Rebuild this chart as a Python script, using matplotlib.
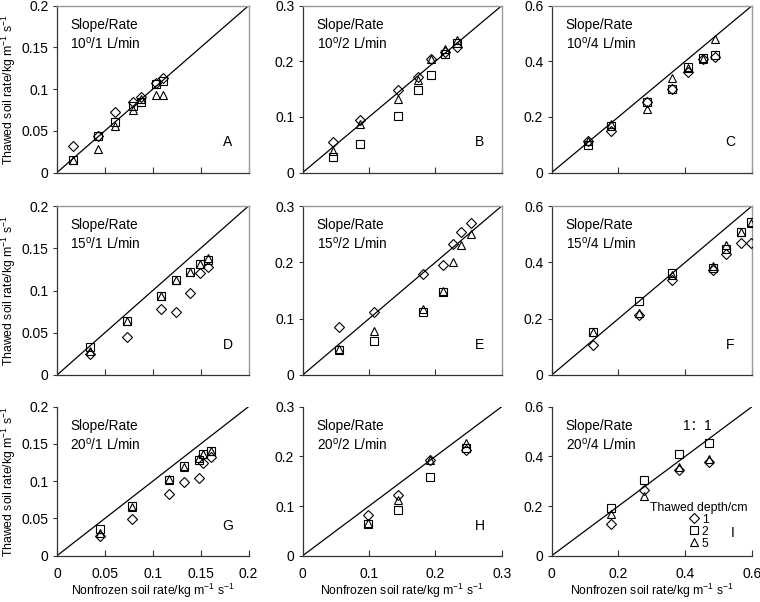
import numpy as np
import matplotlib
matplotlib.use("Agg")
import matplotlib.pyplot as plt
from matplotlib.ticker import FixedLocator, FuncFormatter

plt.rcParams['font.family'] = ['Liberation Sans', 'Noto Sans CJK SC', 'DejaVu Sans']
plt.rcParams['mathtext.fontset'] = 'custom'
plt.rcParams['mathtext.rm'] = 'Liberation Sans'
plt.rcParams['mathtext.it'] = 'Liberation Sans'
plt.rcParams['mathtext.default'] = 'regular'

nan = np.nan

# ---- data: nonfrozen (x) vs thawed (y) soil rate, thawed depths 1, 2, 5 cm ----
A_x  = [0.017, 0.043, 0.061, 0.079, 0.088, 0.103, 0.111]
A_d1 = [0.032, 0.044, 0.073, 0.085, 0.090, 0.107, 0.113]
A_d2 = [0.015, 0.044, 0.061, 0.080, 0.084, 0.106, 0.110]
A_d5 = [0.015, 0.028, 0.056, 0.075, 0.088, 0.093, 0.093]

B_x  = [0.045, 0.086, 0.144, 0.174, 0.194, 0.215, 0.232]
B_d1 = [0.055, 0.094, 0.148, 0.171, 0.204, 0.216, 0.226]
B_d2 = [0.028, 0.052, 0.102, 0.148, 0.176, 0.214, 0.233]
B_d5 = [0.038, 0.088, 0.133, 0.166, 0.204, 0.222, 0.239]

C_x  = [0.110, 0.179, 0.284, 0.359, 0.409, 0.454, 0.490]
C_d1 = [0.112, 0.151, 0.252, 0.302, 0.360, 0.410, 0.415]
C_d2 = [0.098, 0.167, 0.254, 0.302, 0.381, 0.412, 0.421]
C_d5 = [0.115, 0.175, 0.227, 0.339, 0.375, 0.410, 0.481]

D_x  = [0.034, 0.073, 0.109, 0.124, 0.139, 0.149, 0.158]
D_d1 = [0.025, 0.045, 0.078, 0.075, 0.097, 0.121, 0.128]
D_d2 = [0.0335, 0.064, 0.0935, 0.112, 0.122, 0.131, 0.136]
D_d5 = [0.028, 0.064, 0.0935, 0.112, 0.122, 0.131, 0.139]

E_x  = [0.055, 0.108, 0.182, 0.211, 0.227, 0.239, 0.254]
E_d1 = [0.086, 0.111, 0.179, 0.195, 0.233, 0.253, 0.269]
E_d2 = [0.044, 0.060, 0.112, 0.148, nan, nan, nan]
E_d5 = [0.047, 0.078, 0.117, 0.150, 0.200, 0.230, 0.250]

F_x  = [0.125, 0.263, 0.360, 0.482, 0.522, 0.567, 0.598]
F_d1 = [0.105, 0.214, 0.336, 0.372, 0.431, 0.469, 0.467]
F_d2 = [0.154, 0.261, 0.362, 0.381, 0.447, 0.508, 0.544]
F_d5 = [0.154, 0.220, 0.354, 0.387, 0.463, 0.508, 0.538]

G_x  = [0.045, 0.078, 0.117, 0.133, 0.148, 0.152, 0.161]
G_d1 = [0.027, 0.049, 0.083, 0.099, 0.104, 0.124, 0.133]
G_d2 = [0.036, 0.067, 0.101, 0.120, 0.129, 0.137, 0.141]
G_d5 = [0.030, 0.066, 0.103, 0.119, 0.131, 0.137, 0.141]

H_x  = [0.099, 0.143, 0.192, 0.246]
H_d1 = [0.082, 0.122, 0.193, 0.213]
H_d2 = [0.064, 0.092, 0.159, 0.216]
H_d5 = [0.066, 0.113, 0.193, 0.226]

I_x  = [0.177, 0.277, 0.380, 0.472]
I_d1 = [0.129, 0.264, 0.347, 0.376]
I_d2 = [0.191, 0.305, 0.410, 0.455]
I_d5 = [0.167, 0.241, 0.356, 0.390]

panel_letters = ['A', 'B', 'C', 'D', 'E', 'F', 'G', 'H', 'I']
slopes = ['10', '10', '10', '15', '15', '15', '20', '20', '20']
rates = ['1', '2', '4', '1', '2', '4', '1', '2', '4']
axis_max = [0.2, 0.3, 0.6]
ticks_col = [[0, 0.05, 0.1, 0.15, 0.2], [0, 0.1, 0.2, 0.3], [0, 0.2, 0.4, 0.6]]
depth_labels = ['1', '2', '5']
panel_data = [
    (A_x, A_d1, A_d2, A_d5), (B_x, B_d1, B_d2, B_d5), (C_x, C_d1, C_d2, C_d5),
    (D_x, D_d1, D_d2, D_d5), (E_x, E_d1, E_d2, E_d5), (F_x, F_d1, F_d2, F_d5),
    (G_x, G_d1, G_d2, G_d5), (H_x, H_d1, H_d2, H_d5), (I_x, I_d1, I_d2, I_d5),
]

W, H = 760, 602
fig = plt.figure(figsize=(W / 100, H / 100), dpi=100)

col_lr = [(57, 248.5), (302.7, 501.7), (551.7, 752)]
row_tb = [(5.7, 172.5), (206, 375), (406.7, 555.7)]

markers = [('D', 4.8), ('s', 5.8), ('^', 6.0)]
fs_tick = 10
fs_txt = 9.8
fs_lab = 8.8
ylab = 'Thawed soil rate/kg m$^{-1}$ s$^{-1}$'
xlab = 'Nonfrozen soil rate/kg m$^{-1}$ s$^{-1}$'

fmt = FuncFormatter(lambda v, p: '0' if v == 0 else ('%g' % v))

for i in range(9):
    r, c = divmod(i, 3)
    l, rr = col_lr[c]
    t, b = row_tb[r]
    ax = fig.add_axes([l / W, 1 - b / H, (rr - l) / W, (b - t) / H])
    m = axis_max[c]
    xs, d1, d2, d5 = panel_data[i]
    ax.plot([0, m], [0, m], color='black', lw=0.9, zorder=1)
    handles = []
    for (mk, ms), ys, lab in zip(markers, [d1, d2, d5], depth_labels):
        h, = ax.plot(xs, ys, linestyle='none', marker=mk, markersize=ms,
                     markerfacecolor='none', markeredgecolor='black',
                     markeredgewidth=0.8, label=lab, zorder=3)
        handles.append(h)
    ax.set_xlim(0, m)
    ax.set_ylim(0, m)
    ax.xaxis.set_major_locator(FixedLocator(ticks_col[c]))
    ax.yaxis.set_major_locator(FixedLocator(ticks_col[c]))
    ax.xaxis.set_major_formatter(fmt)
    ax.yaxis.set_major_formatter(fmt)
    ax.tick_params(axis='x', direction='in', length=4, width=0.8, labelsize=fs_tick,
                   pad=8, color='#333333')
    ax.tick_params(axis='y', direction='out', length=3, width=0.8, labelsize=fs_tick,
                   pad=3, color='#333333')
    ax.spines['left'].set_color('#333333')
    ax.spines['bottom'].set_color('#333333')
    ax.spines['left'].set_linewidth(0.9)
    ax.spines['bottom'].set_linewidth(0.9)
    if r < 2:
        ax.spines['top'].set_color('#9a9a9a')
        ax.spines['right'].set_color('#9a9a9a')
        ax.spines['top'].set_linewidth(1.0)
        ax.spines['right'].set_linewidth(1.0)
        ax.tick_params(axis='x', labelbottom=False)
    else:
        ax.spines['top'].set_visible(False)
        ax.spines['right'].set_visible(False)
        ax.set_xlabel(xlab, fontsize=fs_lab, labelpad=1)
    if c == 0:
        ax.set_ylabel(ylab, fontsize=fs_lab, labelpad=3)

    hpx = b - t
    ax.text(0.07, 1 - 19 / hpx, 'Slope/Rate', transform=ax.transAxes,
            fontsize=fs_txt, va='center', ha='left')
    ax.text(0.07, 1 - 38 / hpx, slopes[i] + '$^{o}$/' + rates[i] + ' L/min',
            transform=ax.transAxes, fontsize=fs_txt, va='center', ha='left')
    ax.text(0.89 if i != 8 else 0.905, 30 / hpx if i != 8 else 23 / hpx,
            panel_letters[i], transform=ax.transAxes, fontsize=fs_tick,
            va='center', ha='center')
    if i == 8:
        ax.text(0.655, 1 - 19 / hpx, '1：1', transform=ax.transAxes,
                fontsize=fs_txt, va='center', ha='left')
        leg = ax.legend(handles=handles, title='Thawed depth/cm', loc='lower right',
                        bbox_to_anchor=(1.01, 0.0), frameon=False, fontsize=fs_lab,
                        title_fontsize=fs_lab, handlelength=0.8, handletextpad=0.2,
                        labelspacing=0.0, borderpad=0.3, borderaxespad=0.2)

fig.savefig('out.png', dpi=100)
